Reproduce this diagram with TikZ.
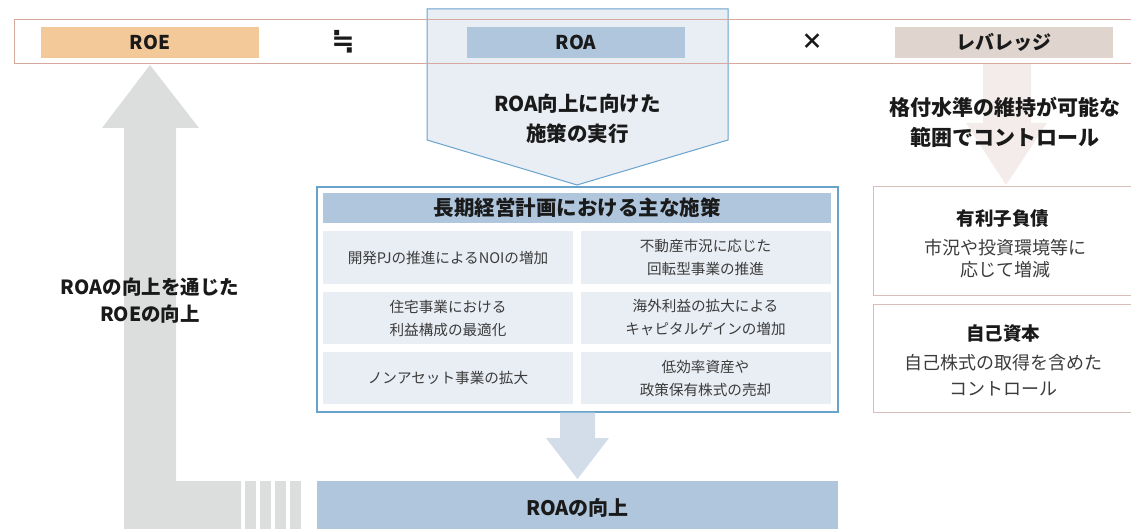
\documentclass[tikz,border=0pt]{standalone}
\usepackage{fontspec}
\setmainfont{Noto Sans CJK JP}
\newfontfamily\symfont{DejaVu Sans}
\definecolor{bandline}{RGB}{214,168,158}
\definecolor{roefill}{RGB}{244,201,154}
\definecolor{roafill}{RGB}{175,198,221}
\definecolor{levfill}{RGB}{224,212,207}
\definecolor{paleblue}{RGB}{233,237,244}
\definecolor{blueline}{RGB}{104,163,204}
\definecolor{grayarrow}{RGB}{220,221,221}
\definecolor{levarrow}{RGB}{243,236,234}
\definecolor{downarrow}{RGB}{211,220,233}
\definecolor{rightline}{RGB}{215,190,184}
\definecolor{txtdark}{RGB}{26,26,26}
\definecolor{txtgray}{RGB}{60,60,60}
\begin{document}
\begin{tikzpicture}[x=1pt,y=-1pt,
  every node/.style={inner sep=0pt, outer sep=0pt, align=center},
  topbox/.style={minimum width=218pt, minimum height=31pt, text=txtdark, font=\bfseries\fontsize{19}{19}\selectfont},
  cellbox/.style={fill=paleblue, minimum width=250pt, minimum height=52pt, text=txtgray, font=\fontsize{14.6}{23}\selectfont},
  bigtxt/.style={text=txtdark, font=\bfseries\fontsize{20.5}{30}\selectfont},
  rbox/.style={draw=rightline, line width=1pt, minimum width=260pt, minimum height=108pt},
  rtitle/.style={text=txtdark, font=\bfseries\fontsize{18.5}{18.5}\selectfont},
  rbody/.style={text=txtgray, font=\fontsize{18}{18}\selectfont}
]
\useasboundingbox (0,0) rectangle (1131,529);
\clip (0,0) rectangle (1131,529);

% left grey L-shaped arrow
\fill[grayarrow] (124,535) -- (124,128) -- (102,128) -- (150,65) -- (199,128) -- (176,128) -- (176,481) -- (241,481) -- (241,535) -- cycle;
\foreach \xa in {245,260,275,290} {
  \fill[grayarrow] (\xa,481) rectangle ++(11,54);
}
\node[text=txtdark, font=\bfseries\fontsize{19.5}{27}\selectfont] (roetxt) at (150,301) {ROAの向上を通じた\\ROEの向上};

% ROA pentagon
\draw[blueline, fill=paleblue, line width=1pt] (427,9) -- (728,9) -- (728,140) -- (577,185) -- (427,140) -- cycle;
\node[bigtxt] (roaexec) at (577.5,119) {ROA向上に向けた\\施策の実行};

% leverage arrow
\fill[levarrow] (983,64) -- (983,123) -- (966,123) -- (1006,185) -- (1047,123) -- (1031,123) -- (1031,64) -- cycle;
\node[text=txtdark, font=\bfseries\fontsize{21}{30}\selectfont] (levtxt) at (1005,122) {格付水準の維持が可能な\\範囲でコントロール};

% top band
\node[draw=bandline, line width=1pt, minimum width=1130pt, minimum height=44pt] (band) at (579,42) {};
\node[topbox, fill=roefill] (roe) at (150,42.5) {ROE};
\node[text=txtdark, font=\symfont\bfseries\fontsize{28}{28}\selectfont] (approx) at (343,42) {≒};
\node[topbox, fill=roafill] (roa) at (576,42.5) {ROA};
\node[text=txtdark, font=\bfseries\fontsize{22}{22}\selectfont] (times) at (812,42) {×};
\node[topbox, fill=levfill] (lev) at (1004,42.5) {レバレッジ};

% main box
\node[draw=blueline, line width=1.2pt, fill=white, minimum width=521pt, minimum height=225pt] (main) at (577.5,299.5) {};
\node[fill=roafill, minimum width=508pt, minimum height=30pt, text=txtdark, font=\bfseries\fontsize{20.5}{20.5}\selectfont] (head) at (577,208) {長期経営計画における主な施策};
\node[cellbox] (c11) at (448,257.5) {開発PJの推進によるNOIの増加};
\node[cellbox] (c12) at (705.5,257.5) {不動産市況に応じた\\回転型事業の推進};
\node[cellbox] (c21) at (448,318) {住宅事業における\\利益構成の最適化};
\node[cellbox] (c22) at (705.5,318) {海外利益の拡大による\\キャピタルゲインの増加};
\node[cellbox] (c31) at (448,378) {ノンアセット事業の拡大};
\node[cellbox] (c32) at (705.5,378) {低効率資産や\\政策保有株式の売却};

% down arrow
\fill[downarrow] (560,412.6) -- (560,438) -- (546,438) -- (577.5,479) -- (609,438) -- (595,438) -- (595,412.6) -- cycle;

% bottom box
\node[fill=roafill, minimum width=521pt, minimum height=54pt, text=txtdark, font=\bfseries\fontsize{20}{20}\selectfont] (roaup) at (577.5,508) {ROAの向上};

% right boxes
\node[rbox] (debt) at (1003,241) {};
\node[rtitle] (debtt) at (1003,219) {有利子負債};
\node[rbody] (debtb1) at (1005,248) {市況や投資環境等に};
\node[rbody] (debtb2) at (1005,270) {応じて増減};
\node[rbox] (eq) at (1003,358) {};
\node[rtitle] (eqt) at (1003,333) {自己資本};
\node[rbody] (eqb1) at (1003,363) {自己株式の取得を含めた};
\node[rbody] (eqb2) at (1003,389) {コントロール};
\end{tikzpicture}
\end{document}
